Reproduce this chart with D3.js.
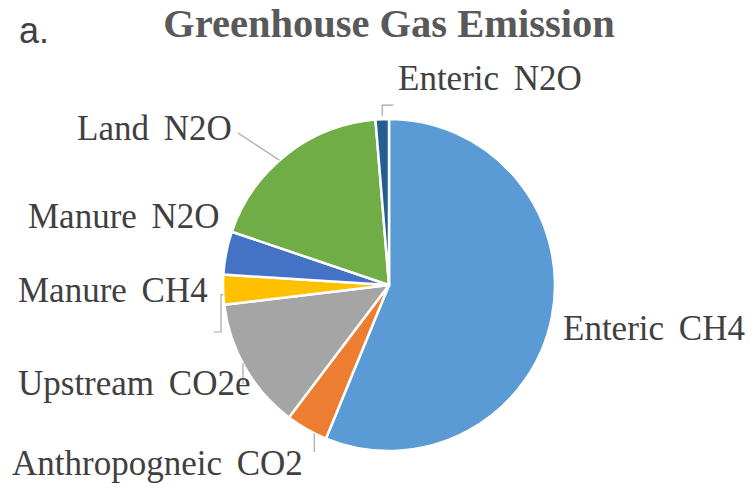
<!DOCTYPE html>
<html>
<head>
<meta charset="utf-8">
<script src="https://cdn.jsdelivr.net/npm/d3@7"></script>
</head>
<body style="margin:0;padding:0;background:#fff">
<svg id="chart" width="756" height="490" style="display:block"></svg>
<script>
// ---- data ----
const categories = ["Enteric CH4", "Anthropogneic CO2", "Upstream CO2e", "Manure CH4", "Manure N2O", "Land N2O", "Enteric N2O"];
const values = [56.2, 4.1, 12.8, 2.9, 4.2, 18.5, 1.3];
const colors = ["#5B9BD5", "#ED7D31", "#A5A5A5", "#FFC000", "#4472C4", "#70AD47", "#255E91"];
const titleText = "Greenhouse Gas Emission";
const panelLabel = "a.";

// ---- layout (label anchor positions, not data) ----
const labelLayout = {
  "Enteric CH4":       { x: 563, y: 340 },
  "Anthropogneic CO2": { x: 12,  y: 475 },
  "Upstream CO2e":     { x: 18,  y: 395 },
  "Manure CH4":        { x: 18,  y: 302 },
  "Manure N2O":        { x: 28,  y: 228 },
  "Land N2O":          { x: 77,  y: 140 },
  "Enteric N2O":       { x: 398, y: 90 }
};

const SERIF = '"Liberation Serif"';
const SANS = '"Liberation Sans"';

const svg = d3.select("#chart");
const cx = 389, cy = 285, R = 166;

svg.append("text")
  .attr("x", 19).attr("y", 43)
  .style("font-family", SANS)
  .style("font-size", "36px")
  .attr("fill", "#404040")
  .text(panelLabel);

svg.append("text")
  .attr("x", 389).attr("y", 37)
  .attr("text-anchor", "middle")
  .style("font-family", SERIF)
  .style("font-weight", "bold")
  .style("font-size", "40.5px")
  .attr("fill", "#595959")
  .text(titleText);

const pie = d3.pie().sort(null).value(d => d.v);
const data = categories.map((c, i) => ({ c, v: values[i], col: colors[i] }));
const arcs = pie(data);
const arc = d3.arc().innerRadius(0).outerRadius(R);

const g = svg.append("g").attr("transform", `translate(${cx},${cy})`);
g.selectAll("path").data(arcs).enter().append("path")
  .attr("d", arc)
  .attr("fill", d => d.data.col)
  .attr("stroke", "#fff")
  .attr("stroke-width", 2.5)
  .attr("stroke-linejoin", "round");

// leader lines
function outerPt(d, frac) {
  const a = d.startAngle + (d.endAngle - d.startAngle) * frac;
  return [cx + R * Math.sin(a), cy - R * Math.cos(a)];
}
const lineStyle = sel => sel.attr("fill", "none").attr("stroke", "#a6a6a6").attr("stroke-width", 1.2);
const byName = {};
arcs.forEach(d => byName[d.data.c] = d);

{
  const p = outerPt(byName["Enteric N2O"], 0.5);
  svg.append("path").call(lineStyle)
    .attr("d", `M${p[0]},${p[1] - 3} L${p[0]},${p[1] - 14} L${p[0] + 11},${p[1] - 14}`);
}
{
  const p = outerPt(byName["Land N2O"], 0.45);
  svg.append("path").call(lineStyle)
    .attr("d", `M${p[0]},${p[1]} L238,133`);
}
{
  const p = outerPt(byName["Manure CH4"], 0.5);
  svg.append("path").call(lineStyle)
    .attr("d", `M${p[0]},${p[1] + 5} L${p[0] - 2},${p[1] + 5} L${p[0] - 2},332 L214,332`);
}
svg.append("path").call(lineStyle).attr("d", `M243,363 L243,384`);
{
  const p = outerPt(byName["Anthropogneic CO2"], 0.3);
  svg.append("path").call(lineStyle)
    .attr("d", `M${p[0]},${p[1]} L${p[0]},452`);
}

svg.selectAll("text.lbl").data(categories).enter().append("text")
  .attr("class", "lbl")
  .attr("x", d => labelLayout[d].x)
  .attr("y", d => labelLayout[d].y)
  .style("font-family", SERIF)
  .style("font-size", "35px")
  .style("word-spacing", "6px")
  .attr("fill", "#404040")
  .text(d => d);
</script>
</body>
</html>
